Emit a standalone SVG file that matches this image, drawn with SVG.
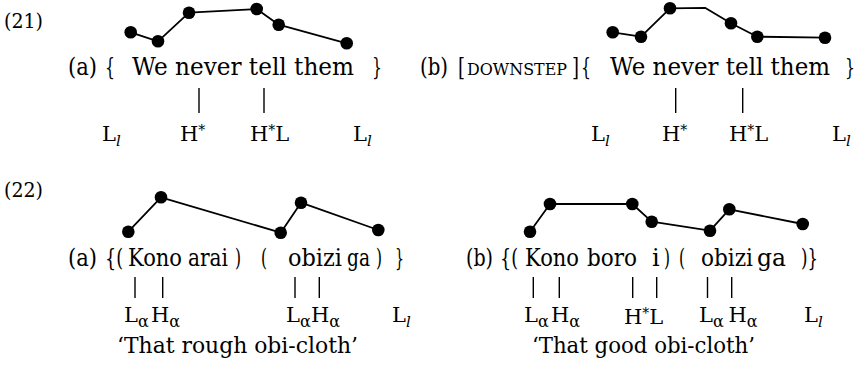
<svg xmlns="http://www.w3.org/2000/svg" width="860" height="365" viewBox="0 0 860 365">
<style>
text{font-family:"DejaVu Serif","Liberation Serif",serif;fill:#000}
.num{font-size:21px}
.m{font-size:24px}
.br{font-size:22px}
.m2{font-size:24px}
.sc{font-size:16.5px}
.lab{font-size:21px}
.sub{font-size:16px}
.subi{font-size:15px;font-style:italic}
.sup{font-size:14px}
.tr{font-size:22.5px}
.contour{fill:none;stroke:#000;stroke-width:1.8;stroke-linejoin:round}
.dot{fill:#000}
.tick{stroke:#000;stroke-width:1.4}
</style>

<g id="labels">
<text class="num" x="4" y="28" textLength="39" lengthAdjust="spacingAndGlyphs">(21)</text>
<text class="num" x="4" y="197" textLength="39" lengthAdjust="spacingAndGlyphs">(22)</text>
</g>

<g id="ex21a">
<text class="m" x="68" y="75" textLength="29" lengthAdjust="spacingAndGlyphs">(a)</text>
<text class="m" x="105" y="75" textLength="10" lengthAdjust="spacingAndGlyphs">{</text>
<text class="m" x="132" y="75" textLength="222" lengthAdjust="spacingAndGlyphs">We never tell them</text>
<text class="m" x="372" y="75" textLength="10" lengthAdjust="spacingAndGlyphs">}</text>
<text class="lab" x="102" y="141">L<tspan class="subi" dy="5">l</tspan></text>
<text class="lab" x="180" y="141">H<tspan class="sup" dy="-6">*</tspan></text>
<text class="lab" x="250" y="141">H<tspan class="sup" dy="-6">*</tspan><tspan dy="6">L</tspan></text>
<text class="lab" x="353" y="141">L<tspan class="subi" dy="5">l</tspan></text>
</g>

<g id="ex21b">
<text class="m" x="420" y="75" textLength="28" lengthAdjust="spacingAndGlyphs">(b)</text>
<text class="m" x="458" y="75" textLength="7" lengthAdjust="spacingAndGlyphs">[</text>
<text class="sc" x="467" y="75" textLength="100" lengthAdjust="spacingAndGlyphs">DOWNSTEP</text>
<text class="m" x="572" y="75" textLength="7" lengthAdjust="spacingAndGlyphs">]</text>
<text class="m" x="581" y="75" textLength="10" lengthAdjust="spacingAndGlyphs">{</text>
<text class="m" x="610" y="75" textLength="220" lengthAdjust="spacingAndGlyphs">We never tell them</text>
<text class="br" x="845" y="75" textLength="10" lengthAdjust="spacingAndGlyphs">}</text>
<text class="lab" x="591" y="141">L<tspan class="subi" dy="5">l</tspan></text>
<text class="lab" x="662" y="141">H<tspan class="sup" dy="-6">*</tspan></text>
<text class="lab" x="729" y="141">H<tspan class="sup" dy="-6">*</tspan><tspan dy="6">L</tspan></text>
<text class="lab" x="832" y="141">L<tspan class="subi" dy="5">l</tspan></text>
</g>

<g id="ex22a">
<text class="m2" x="68" y="266" textLength="29" lengthAdjust="spacingAndGlyphs">(a)</text>
<text class="m2" x="105" y="266" textLength="18" lengthAdjust="spacingAndGlyphs">{(</text>
<text class="m2" x="128" y="266" textLength="54" lengthAdjust="spacingAndGlyphs">Kono</text>
<text class="m2" x="188" y="266" textLength="40" lengthAdjust="spacingAndGlyphs">arai</text>
<text class="m2" x="235" y="266" textLength="6" lengthAdjust="spacingAndGlyphs">)</text>
<text class="m2" x="261" y="266" textLength="6" lengthAdjust="spacingAndGlyphs">(</text>
<text class="m2" x="288" y="266" textLength="54" lengthAdjust="spacingAndGlyphs">obizi</text>
<text class="m2" x="347" y="266" textLength="23" lengthAdjust="spacingAndGlyphs">ga</text>
<text class="m2" x="376" y="266" textLength="6" lengthAdjust="spacingAndGlyphs">)</text>
<text class="m2" x="395" y="266" textLength="9" lengthAdjust="spacingAndGlyphs">}</text>
<text class="lab" x="124" y="322">L<tspan class="sub" dy="5">α</tspan><tspan x="151" dy="-5">H</tspan><tspan class="sub" dy="5">α</tspan></text>
<text class="lab" x="286" y="322">L<tspan class="sub" dy="5">α</tspan><tspan x="311" dy="-5">H</tspan><tspan class="sub" dy="5">α</tspan></text>
<text class="lab" x="392" y="322">L<tspan class="subi" dy="5">l</tspan></text>
<text class="tr" x="117" y="353" textLength="241" lengthAdjust="spacingAndGlyphs">‘That  rough obi-cloth’</text>
</g>

<g id="ex22b">
<text class="m2" x="466" y="266" textLength="27" lengthAdjust="spacingAndGlyphs">(b)</text>
<text class="m2" x="500" y="266" textLength="18" lengthAdjust="spacingAndGlyphs">{(</text>
<text class="m2" x="525" y="266" textLength="54" lengthAdjust="spacingAndGlyphs">Kono</text>
<text class="m2" x="587" y="266" textLength="50" lengthAdjust="spacingAndGlyphs">boro</text>
<text class="m2" x="652" y="266">i</text>
<text class="m2" x="664" y="266" textLength="6" lengthAdjust="spacingAndGlyphs">)</text>
<text class="m2" x="679" y="266" textLength="6" lengthAdjust="spacingAndGlyphs">(</text>
<text class="m2" x="701" y="266" textLength="52" lengthAdjust="spacingAndGlyphs">obizi</text>
<text class="m2" x="757" y="266" textLength="29" lengthAdjust="spacingAndGlyphs">ga</text>
<text class="m2" x="801" y="266" textLength="17" lengthAdjust="spacingAndGlyphs">)}</text>
<text class="lab" x="524" y="322">L<tspan class="sub" dy="5">α</tspan><tspan x="551" dy="-5">H</tspan><tspan class="sub" dy="5">α</tspan></text>
<text class="lab" x="624" y="324">H<tspan class="sup" dy="-6">*</tspan><tspan dy="6">L</tspan></text>
<text class="lab" x="699" y="322">L<tspan class="sub" dy="5">α</tspan><tspan x="728.5" dy="-5">H</tspan><tspan class="sub" dy="5">α</tspan></text>
<text class="lab" x="804" y="322">L<tspan class="subi" dy="5">l</tspan></text>
<text class="tr" x="532" y="353" textLength="223" lengthAdjust="spacingAndGlyphs">‘That good obi-cloth’</text>
</g>

<g id="connectors">
<g id="contours">
<polyline class="contour" points="130.7,32.3 158,41.3 189,12.7 256.7,9 278.7,24.7 346.7,43.3"/>
<polyline class="contour" points="612.7,32.3 641,36.7 670,8.3 705,7.8 731,23.3 757.3,36.7 825,37.7"/>
<polyline class="contour" points="128.3,231.7 161,197.3 280.7,232.7 301,202.7 378.3,230"/>
<polyline class="contour" points="530,231.7 550,204 632.3,204 651.7,221.7 710,230.7 729.3,209.3 802.7,224"/>
</g>
<g id="dots" class="dot">
<circle cx="130.7" cy="32.3" r="6.3"/><circle cx="158" cy="41.3" r="6.3"/><circle cx="189" cy="12.7" r="6.3"/><circle cx="256.7" cy="9" r="6.3"/><circle cx="278.7" cy="24.7" r="6.3"/><circle cx="346.7" cy="43.3" r="6.3"/>
<circle cx="612.7" cy="32.3" r="6.3"/><circle cx="641" cy="36.7" r="6.3"/><circle cx="670" cy="8.3" r="6.3"/><circle cx="731" cy="23.3" r="6.3"/><circle cx="757.3" cy="36.7" r="6.3"/><circle cx="825" cy="37.7" r="6.3"/>
<circle cx="128.3" cy="231.7" r="6.3"/><circle cx="161" cy="197.3" r="6.3"/><circle cx="280.7" cy="232.7" r="6.3"/><circle cx="301" cy="202.7" r="6.3"/><circle cx="378.3" cy="230" r="6.3"/>
<circle cx="530" cy="231.7" r="6.3"/><circle cx="550" cy="204" r="6.3"/><circle cx="632.3" cy="204" r="6.3"/><circle cx="651.7" cy="221.7" r="6.3"/><circle cx="710" cy="230.7" r="6.3"/><circle cx="729.3" cy="209.3" r="6.3"/><circle cx="802.7" cy="224" r="6.3"/>
</g>
<g id="ticks" class="tick">
<line x1="199" y1="88" x2="199" y2="113"/><line x1="264" y1="88" x2="264" y2="113"/>
<line x1="675.7" y1="88" x2="675.7" y2="113"/><line x1="742.7" y1="88" x2="742.7" y2="113"/>
<line x1="135" y1="277" x2="135" y2="298"/><line x1="162.7" y1="277" x2="162.7" y2="298"/>
<line x1="295" y1="277" x2="295" y2="298"/><line x1="319.3" y1="277" x2="319.3" y2="298"/>
<line x1="533.3" y1="277" x2="533.3" y2="298"/><line x1="559.3" y1="277" x2="559.3" y2="298"/>
<line x1="632.7" y1="277" x2="632.7" y2="298"/><line x1="656.7" y1="277" x2="656.7" y2="298"/>
<line x1="707.5" y1="277" x2="707.5" y2="298"/><line x1="731.7" y1="277" x2="731.7" y2="298"/>
</g>
</g>
</svg>
